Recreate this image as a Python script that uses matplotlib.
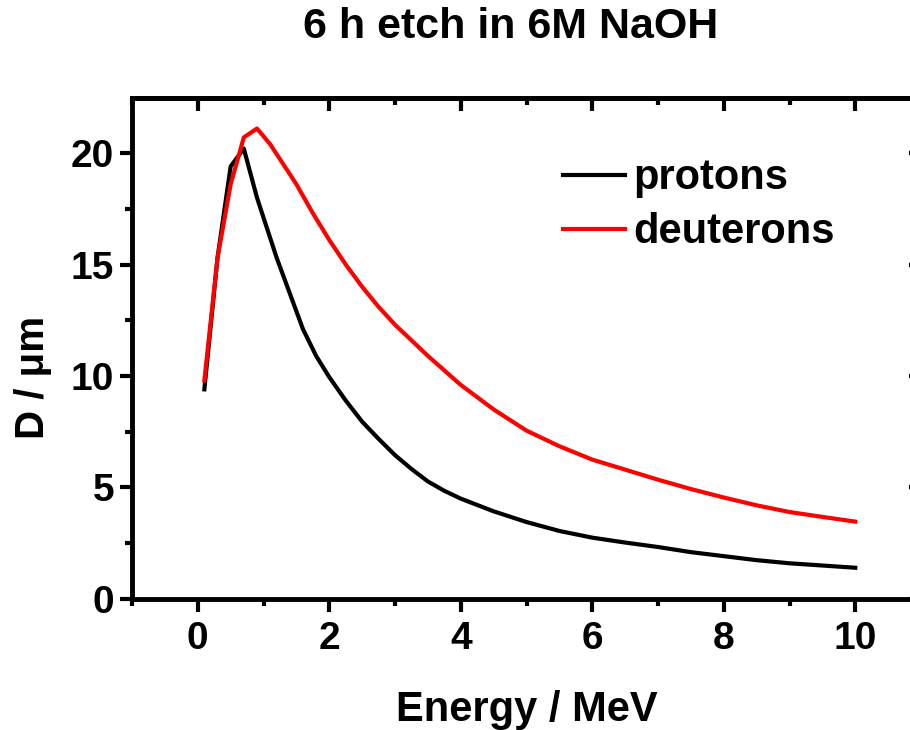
import matplotlib
matplotlib.use("Agg")
import matplotlib.pyplot as plt
from matplotlib.ticker import MultipleLocator

plt.rcParams['font.family'] = ['Liberation Sans', 'DejaVu Sans']
plt.rcParams['font.weight'] = 'bold'

# energies (MeV) and track diameters (um)
e_prot = [0.1, 0.3, 0.5, 0.7, 0.9, 1.0, 1.2, 1.4, 1.6, 1.8, 2.0, 2.25, 2.5, 2.75, 3.0,
          3.25, 3.5, 3.75, 4.0, 4.5, 5.0, 5.5, 6.0, 6.5, 7.0, 7.5, 8.0, 8.5, 9.0, 9.5, 10.0]
d_prot = [9.4, 15.3, 19.4, 20.2, 18.0, 17.1, 15.3, 13.7, 12.1, 10.9, 9.95, 8.9, 7.95, 7.18, 6.45,
          5.83, 5.27, 4.85, 4.5, 3.93, 3.45, 3.05, 2.75, 2.53, 2.33, 2.1, 1.92, 1.74, 1.6, 1.5, 1.4]

e_deut = [0.1, 0.3, 0.5, 0.7, 0.9, 1.1, 1.5, 1.75, 2.0, 2.25, 2.5, 2.75, 3.0, 3.5, 4.0, 4.5, 5.0,
          5.5, 6.0, 6.5, 7.0, 7.5, 8.0, 8.5, 9.0, 9.5, 10.0]
d_deut = [9.8, 15.3, 18.6, 20.7, 21.1, 20.4, 18.6, 17.3, 16.1, 15.0, 14.0, 13.1, 12.3, 10.9, 9.6, 8.5, 7.55,
          6.85, 6.25, 5.8, 5.35, 4.93, 4.55, 4.2, 3.9, 3.68, 3.47]

fig = plt.figure(figsize=(9.1, 7.3), dpi=100)
ax = fig.add_axes([0.1451, 0.1795, 0.867, 0.6863])

ax.plot(e_prot, d_prot, color='black', lw=3, label='protons')
ax.plot(e_deut, d_deut, color='red', lw=3, label='deuterons')

ax.set_xlim(-1, 11)
ax.set_ylim(0, 22.47)
ax.xaxis.set_major_locator(MultipleLocator(2))
ax.xaxis.set_minor_locator(MultipleLocator(1))
ax.yaxis.set_major_locator(MultipleLocator(5))
ax.yaxis.set_minor_locator(MultipleLocator(2.5))

for s in ax.spines.values():
    s.set_linewidth(3.5)

ax.tick_params(axis='both', which='major', length=9, width=3, labelsize=28, pad=7)
ax.tick_params(axis='both', which='minor', length=5, width=3)
ax.tick_params(axis='x', which='both', direction='out', top=False)
ax.tick_params(axis='y', which='both', direction='out', right=False, pad=4)
# mirrored ticks on top / right point inward
ax2 = ax.secondary_xaxis('top')
ax2.xaxis.set_major_locator(MultipleLocator(2))
ax2.xaxis.set_minor_locator(MultipleLocator(1))
ax2.tick_params(which='major', direction='in', length=9, width=3, labeltop=False)
ax2.tick_params(which='minor', direction='in', length=5, width=3)
ax2.spines['top'].set_linewidth(3.5)
ax3 = ax.secondary_yaxis('right')
ax3.yaxis.set_major_locator(MultipleLocator(5))
ax3.yaxis.set_minor_locator(MultipleLocator(2.5))
ax3.tick_params(which='major', direction='in', length=9, width=3, labelright=False)
ax3.tick_params(which='minor', direction='in', length=5, width=3)

ax.set_xlabel('Energy / MeV', fontsize=30, fontweight='bold')
ax.xaxis.set_label_coords(0.5, -0.222)
ax.xaxis.label.set_va('center')
ax.set_ylabel('D / μm', fontsize=29, fontweight='bold')
ax.yaxis.set_label_coords(-0.1255, 0.443)
ax.yaxis.label.set_va('center')

ax.legend(loc='upper left', bbox_to_anchor=(0.546, 0.880), frameon=False,
          handlelength=1.5, handletextpad=0.2, labelspacing=0.34,
          borderpad=0, borderaxespad=0, prop={'weight': 'bold', 'size': 30})

fig.text(511 / 910, 1 - 27 / 730, '6 h etch in 6M NaOH', fontsize=31,
         fontweight='bold', ha='center', va='center')

fig.savefig('out.png', dpi=100)
